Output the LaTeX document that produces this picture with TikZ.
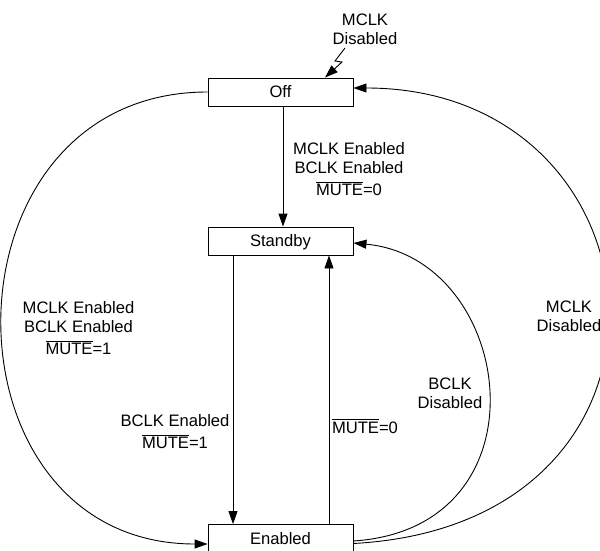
\documentclass[tikz,border=0pt]{standalone}
\usepackage{fontspec}
\setmainfont{Liberation Sans}
\usetikzlibrary{arrows.meta}
\newcommand\ovl[1]{\leavevmode\vbox{\hrule height 0.8pt\kern1.3pt\hbox{#1}}}
\begin{document}
\begin{tikzpicture}[x=1pt,y=-1pt,line width=0.9pt,
  font=\fontsize{16.6}{19}\selectfont,
  state/.style={draw,minimum width=145pt,minimum height=28pt,inner sep=0pt,text height=11.8pt,text depth=0pt},
  lbl/.style={align=center,inner sep=0pt,anchor=north},
  arr/.style={-{Triangle[length=13pt,width=9pt]}}]
\useasboundingbox (0,0) rectangle (600,551);
\node[state] (off) at (280.5,92) {Off};
\node[state] (standby) at (280.5,241) {Standby};
\node[state] (enabled) at (280.5,538.5) {Enabled};
% connectors
\draw[arr] ([xshift=2.5pt]off.south) -- ([xshift=2.5pt]standby.north);
\draw[arr] ([xshift=-47.5pt]standby.south) -- ([xshift=-47.5pt]enabled.north);
\draw[arr] ([xshift=48.5pt]enabled.north) -- ([xshift=48.5pt]standby.south);
\draw[arr] (off.west) .. controls (-66,92) and (-66,544) .. ([yshift=-5.5pt]enabled.west);
\draw[arr] ([yshift=-2.5pt]enabled.east) .. controls (552,528) and (515,258) .. ([yshift=-2pt]standby.east);
\draw[arr] ([yshift=-5pt]enabled.east) .. controls (712,524) and (672,88) .. ([yshift=4pt]off.east);
\coordinate (lz0) at (345,48);
\draw[arr] (lz0) -- (335,61) -- (342,62) -- ([xshift=44.5pt]off.north);
% labels
\node[lbl] (ltop) at (365,13.2) {MCLK\\Disabled};
\node[lbl] (l1) at (349,142) {MCLK Enabled\\BCLK Enabled\\[3pt]\ovl{MUTE}=0};
\node[lbl] (l2) at (78.5,301) {MCLK Enabled\\BCLK Enabled\\[3pt]\ovl{MUTE}=1};
\node[lbl] (l3) at (175,414) {BCLK Enabled\\[3pt]\ovl{MUTE}=1};
\node[anchor=base,inner sep=0pt] (l4) at (365,433) {\ovl{MUTE}=0};
\node[lbl] (l5) at (450,377) {BCLK\\Disabled};
\node[lbl,fill=white,inner sep=1pt] (l6) at (569,299) {MCLK\\Disabled};
\end{tikzpicture}
\end{document}
